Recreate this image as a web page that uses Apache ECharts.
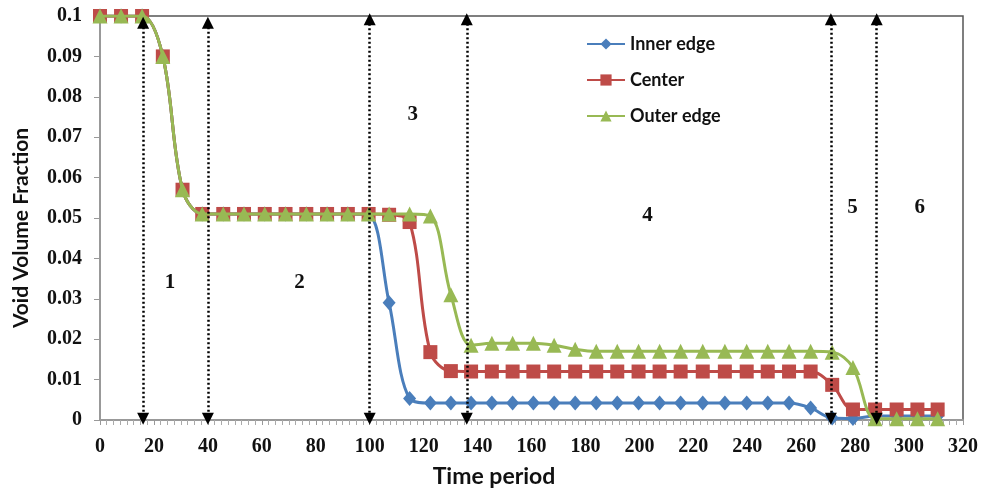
<!DOCTYPE html>
<html>
<head>
<meta charset="utf-8">
<script src="https://cdn.jsdelivr.net/npm/echarts@6/dist/echarts.min.js"></script>
<style>
html,body{margin:0;padding:0;background:#fff;}
#chart{width:982px;height:496px;}
</style>
</head>
<body>
<div id="chart"></div>
<script>
// Time values (x)
var timePeriod = [0, 7.8, 15.6, 23.3, 30.6, 37.9, 45.7, 53.4, 61.1, 68.8, 76.5, 84.2, 91.9, 99.6, 107.2, 114.8, 122.5, 130.1, 137.6, 145.3, 153, 160.7, 168.4, 176.2, 184, 191.8, 199.7, 207.5, 215.3, 223.5, 231.7, 239.8, 247.6, 255.5, 263.5, 271.5, 279.2, 287.4, 295.4, 303.1, 310.6];

var innerEdge = [0.1, 0.1, 0.1, 0.09, 0.057, 0.051, 0.051, 0.051, 0.051, 0.051, 0.051, 0.051, 0.051, 0.0508, 0.029, 0.0053, 0.0042, 0.0042, 0.0042, 0.0042, 0.0042, 0.0042, 0.0042, 0.0042, 0.0042, 0.0042, 0.0042, 0.0042, 0.0042, 0.0042, 0.0042, 0.0042, 0.0042, 0.0042, 0.003, 0.0005, 0.0004, 0.001, 0.001, 0.001, 0.001];

var center = [0.1, 0.1, 0.1, 0.09, 0.057, 0.051, 0.051, 0.051, 0.051, 0.051, 0.051, 0.051, 0.051, 0.051, 0.0508, 0.049, 0.0168, 0.0121, 0.012, 0.012, 0.012, 0.012, 0.012, 0.012, 0.012, 0.012, 0.012, 0.012, 0.012, 0.012, 0.012, 0.012, 0.012, 0.012, 0.012, 0.0087, 0.0026, 0.0026, 0.0026, 0.0026, 0.0026];

var outerEdge = [0.1, 0.1, 0.1, 0.09, 0.057, 0.051, 0.051, 0.051, 0.051, 0.051, 0.051, 0.051, 0.051, 0.051, 0.051, 0.051, 0.0505, 0.031, 0.0185, 0.019, 0.019, 0.019, 0.0185, 0.0175, 0.017, 0.017, 0.017, 0.017, 0.017, 0.017, 0.017, 0.017, 0.017, 0.017, 0.017, 0.0168, 0.013, 0.0003, 0.0003, 0.0003, 0.0003];

var seriesNames = ['Inner edge', 'Center', 'Outer edge'];

// Phase boundary arrows (time values) and their vertical extent
var phaseBoundaries = [16, 40, 100, 136, 271, 288];
var arrowTop = [0.0983, 0.0983, 0.0992, 0.0992, 0.0992, 0.0992];
var arrowBottom = 0.0003;

// Phase labels
var phaseLabels = ['1', '2', '3', '4', '5', '6'];
var phaseLabelX = [26, 74, 116, 203, 279, 304];
var phaseLabelY = [0.034, 0.034, 0.0755, 0.0507, 0.0525, 0.0525];

var xTicks = {min: 0, max: 320, interval: 20};
var yTicks = {min: 0, max: 0.1, interval: 0.01};

function pairs(ys) {
  return ys.map(function (v, i) { return [timePeriod[i], v]; });
}

var chart = echarts.init(document.getElementById('chart'), null, {renderer: 'canvas'});

var arrowLines = phaseBoundaries.map(function (x, i) {
  return [{coord: [x, arrowTop[i]]}, {coord: [x, arrowBottom]}];
});
var labelPoints = phaseLabels.map(function (t, i) {
  return {name: t, coord: [phaseLabelX[i], phaseLabelY[i]]};
});

var colors = ['#4A7EBB', '#BE4B48', '#98B954'];

var option = {
  animation: false,
  backgroundColor: '#ffffff',
  grid: {
    left: 100, right: 19, top: 16, bottom: 76,
    outerBoundsMode: 'none',
    show: true, borderColor: '#555', borderWidth: 1.5, backgroundColor: 'transparent'
  },
  legend: {
    orient: 'vertical',
    left: 581, top: 30,
    itemWidth: 38, itemHeight: 14, itemGap: 18,
    data: seriesNames,
    textStyle: {fontFamily: 'Lato', fontWeight: 'bold', fontSize: 18, color: '#111'}
  },
  xAxis: {
    type: 'value',
    min: xTicks.min, max: xTicks.max, interval: xTicks.interval,
    name: 'Time period',
    nameLocation: 'middle',
    nameGap: 45,
    nameTextStyle: {fontFamily: 'Lato', fontWeight: 'bold', fontSize: 23, color: '#111', padding: [0, 75, 0, 0]},
    axisLine: {lineStyle: {color: '#999', width: 2}},
    axisTick: {show: true, inside: false, length: 5, lineStyle: {color: '#999', width: 1}},
    minorTick: {show: true, splitNumber: 8, length: 5, lineStyle: {color: '#aaa', width: 1}},
    splitLine: {show: false},
    axisLabel: {margin: 17, fontFamily: 'Liberation Sans Narrow', fontWeight: 'bold', fontSize: 20, color: '#111'}
  },
  yAxis: {
    type: 'value',
    min: yTicks.min, max: yTicks.max, interval: yTicks.interval,
    name: 'Void Volume Fraction',
    nameLocation: 'middle',
    nameGap: 68,
    nameRotate: 90,
    nameTextStyle: {fontFamily: 'Lato', fontWeight: 'bold', fontSize: 21, color: '#111', padding: [0, 20, 0, 0]},
    axisLine: {show: true, lineStyle: {color: '#999', width: 2}},
    axisTick: {show: true, length: 6, lineStyle: {color: '#999', width: 1}},
    splitLine: {show: false},
    axisLabel: {margin: 18, fontFamily: 'Liberation Sans Narrow', fontWeight: 'bold', fontSize: 20, color: '#111'}
  },
  series: [
    {
      name: seriesNames[0], type: 'line', smooth: 0.35,
      data: pairs(innerEdge),
      symbol: 'diamond', symbolSize: [13, 15],
      lineStyle: {color: colors[0], width: 3},
      itemStyle: {color: colors[0]},
      z: 2
    },
    {
      name: seriesNames[1], type: 'line', smooth: 0.35,
      data: pairs(center),
      symbol: 'rect', symbolSize: 14,
      lineStyle: {color: colors[1], width: 3},
      itemStyle: {color: colors[1]},
      z: 3
    },
    {
      name: seriesNames[2], type: 'line', smooth: 0.35,
      data: pairs(outerEdge),
      symbol: 'triangle', symbolSize: 15,
      lineStyle: {color: colors[2], width: 3},
      itemStyle: {color: colors[2]},
      z: 4
    },
    {
      name: 'annotations', type: 'line', data: [],
      silent: true, z: 5,
      markLine: {
        silent: true,
        symbol: ['triangle', 'triangle'],
        symbolSize: 12,
        label: {show: false},
        lineStyle: {color: '#000', width: 2.5, type: [2, 2.5]},
        data: arrowLines
      },
      markPoint: {
        silent: true,
        symbol: 'circle', symbolSize: 1,
        itemStyle: {color: 'rgba(0,0,0,0)'},
        label: {
          show: true, position: 'inside', formatter: '{b}',
          fontFamily: 'Liberation Serif', fontWeight: 'bold', fontSize: 21, color: '#111'
        },
        data: labelPoints
      }
    }
  ]
};

chart.setOption(option);
</script>
</body>
</html>
